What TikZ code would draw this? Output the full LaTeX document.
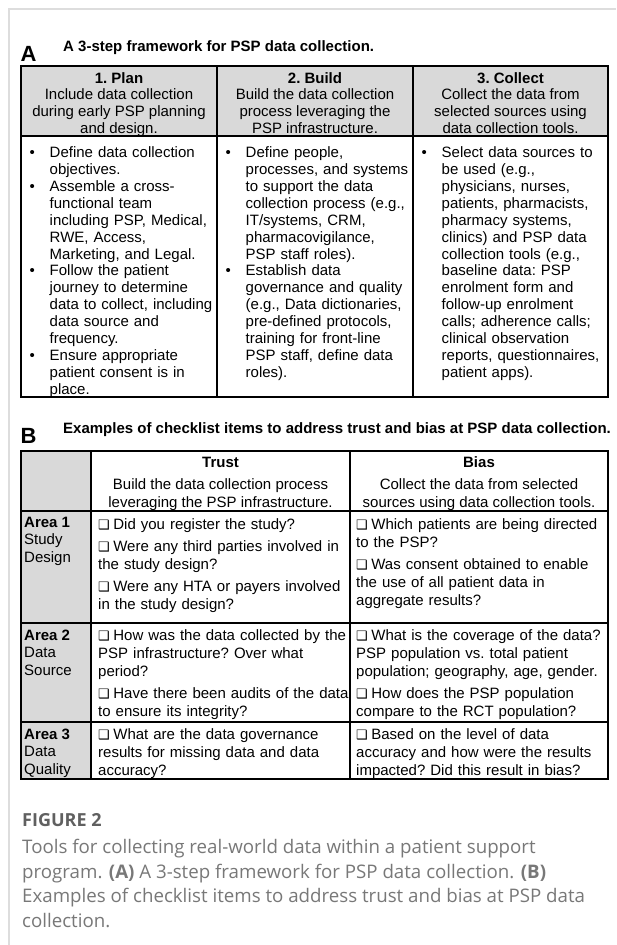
\documentclass[tikz,border=0pt]{standalone}
\usepackage{fontspec}
\setmainfont{Liberation Sans}
\newfontfamily\capfont{Open Sans}
\newfontfamily\symfont{DejaVu Sans}
\definecolor{hdrgray}{HTML}{D9D9D9}
\definecolor{framegray}{HTML}{DDDDDD}
\definecolor{capgray}{HTML}{787878}
\definecolor{figgray}{HTML}{606060}
\newcommand\hdrfont{\fontsize{15}{16.7}\selectfont\frenchspacing}
\newcommand\bodyfont{\fontsize{15}{16.9}\selectfont\frenchspacing}
\newcommand\chkfont{\fontsize{15}{18.2}\selectfont\frenchspacing}
\newcommand\areafont{\fontsize{15}{17.5}\selectfont\frenchspacing}
\newcommand\bitem[1]{\par\noindent\hangindent=20.1pt\hangafter=1\makebox[20.1pt][l]{•}{\let\\\newline #1}\par}
\newcommand\cbox{{\symfont\fontsize{13}{13}\selectfont ❑}}
\newcommand\citem[1]{\par\vspace{3.5pt}\noindent\cbox\hspace{3.5pt}{\let\\\newline #1}}
\newcommand\cfirst[1]{\noindent\cbox\hspace{3.5pt}{\let\\\newline #1}}
\tikzset{
  tbl/.style={line width=1.1pt, draw=black},
  hdr/.style={align=center, font=\hdrfont, inner sep=0pt, anchor=north},
  hdrb/.style={align=center, font=\fontsize{15}{18}\selectfont, inner sep=0pt, anchor=north},
  bodytxt/.style={text width=185pt, font=\bodyfont\raggedright, inner sep=0pt, anchor=north west},
  chk/.style={text width=262pt, font=\chkfont\raggedright, inner sep=0pt, anchor=north west},
  area/.style={align=left, font=\areafont, inner sep=0pt, anchor=north west},
  biglabel/.style={font=\bfseries\fontsize{22}{24}\selectfont, inner sep=0pt, anchor=base west},
  ttl/.style={font=\bfseries\fontsize{15}{17}\selectfont, inner sep=0pt, anchor=base west}
}
\begin{document}
\begin{tikzpicture}[x=1pt,y=-1pt]
\useasboundingbox (0,0) rectangle (616,945);
\fill[white] (0,0) rectangle (616,945);
\draw[framegray, line width=1.5pt] (9,945) -- (9,9) -- (616,9);

% ---------- Panel A ----------
\node[biglabel] (labA) at (20.5,61) {A};
\node[ttl] (titA) at (63,51) {A 3-step framework for PSP data collection.};

\fill[hdrgray] (21,66) rectangle (608,136);
\draw[tbl] (21,66) rectangle (608,397);
\draw[tbl] (21,136) -- (608,136);
\draw[tbl] (217,66) -- (217,397);
\draw[tbl] (413,66) -- (413,397);

\node[hdr] (h1) at (119,72) {\textbf{1. Plan}\\Include data collection\\during early PSP planning\\and design.};
\node[hdr] (h2) at (315,72) {\textbf{2. Build}\\Build the data collection\\process leveraging the\\PSP infrastructure.};
\node[hdr] (h3) at (510.5,72) {\textbf{3. Collect}\\Collect the data from\\selected sources using\\data collection tools.};

\node[bodytxt] (b1) at (29.4,140.5) {\bitem{Define data collection\\objectives.}%
\bitem{Assemble a cross-\\functional team\\including PSP, Medical,\\RWE, Access,\\Marketing, and Legal.}%
\bitem{Follow the patient\\journey to determine\\data to collect, including\\data source and\\frequency.}%
\bitem{Ensure appropriate\\patient consent is in\\place.}};

\node[bodytxt] (b2) at (225.4,140.5) {\bitem{Define people,\\processes, and systems\\to support the data\\collection process (e.g.,\\IT/systems, CRM,\\pharmacovigilance,\\PSP staff roles).}%
\bitem{Establish data\\governance and quality\\(e.g., Data dictionaries,\\pre-defined protocols,\\training for front-line\\PSP staff, define data\\roles).}};

\node[bodytxt] (b3) at (421.4,140.5) {\bitem{Select data sources to\\be used (e.g.,\\physicians, nurses,\\patients, pharmacists,\\pharmacy systems,\\clinics) and PSP data\\collection tools (e.g.,\\baseline data: PSP\\enrolment form and\\follow-up enrolment\\calls; adherence calls;\\clinical observation\\reports, questionnaires,\\patient apps).}};

% ---------- Panel B ----------
\node[biglabel] (labB) at (20.5,443) {B};
\node[ttl] (titB) at (63,433.5) {Examples of checklist items to address trust and bias at PSP data collection.};

\fill[hdrgray] (21,451) rectangle (91,779);
\draw[tbl] (21,451) rectangle (608,779);
\draw[tbl] (21,511) -- (608,511);
\draw[tbl] (21,623) -- (608,623);
\draw[tbl] (21,722) -- (608,722);
\draw[tbl] (91,451) -- (91,779);
\draw[tbl] (350,451) -- (350,779);

\node[hdrb] (ht) at (220.5,456.5) {\textbf{Trust}\\[4pt]Build the data collection process\\leveraging the PSP infrastructure.};
\node[hdrb] (hb) at (479,456.5) {\textbf{Bias}\\[4pt]Collect the data from selected\\sources using data collection tools.};

\node[area] (a1) at (24,516.5) {\textbf{Area 1}\\Study\\Design};
\node[area] (a2) at (24,629.5) {\textbf{Area 2}\\Data\\Source};
\node[area] (a3) at (24,728.5) {\textbf{Area 3}\\Data\\Quality};

\node[chk] (t1) at (98,518.5) {\cfirst{Did you register the study?}
\citem{Were any third parties involved in\\the study design?}
\citem{Were any HTA or payers involved\\in the study design?}};
\node[chk] (s1) at (356,518.5) {\cfirst{Which patients are being directed\\to the PSP?}
\citem{Was consent obtained to enable\\the use of all patient data in\\aggregate results?}};

\node[chk] (t2) at (98,629.5) {\cfirst{How was the data collected by the\\PSP infrastructure? Over what\\period?}
\citem{Have there been audits of the data\\to ensure its integrity?}};
\node[chk] (s2) at (356,629.5) {\cfirst{What is the coverage of the data?\\PSP population vs. total patient\\population; geography, age, gender.}
\citem{How does the PSP population\\compare to the RCT population?}};

\node[chk] (t3) at (98,728.5) {\cfirst{What are the data governance\\results for missing data and data\\accuracy?}};
\node[chk] (s3) at (356,728.5) {\cfirst{Based on the level of data\\accuracy and how were the results\\impacted? Did this result in bias?}};

% ---------- Caption ----------
\node[anchor=base west, font=\capfont\bfseries\fontsize{18}{20}\selectfont, text=figgray, inner sep=0pt] (fig) at (22,826) {FIGURE 2};
\node[anchor=north west, align=left, font=\capfont\fontsize{18.7}{24.5}\selectfont, text=capgray, inner sep=0pt] (cap) at (22,839) {Tools for collecting real-world data within a patient support\\program. \textbf{(A)} A 3-step framework for PSP data collection. \textbf{(B)}\\Examples of checklist items to address trust and bias at PSP data\\collection.};
\end{tikzpicture}
\end{document}
